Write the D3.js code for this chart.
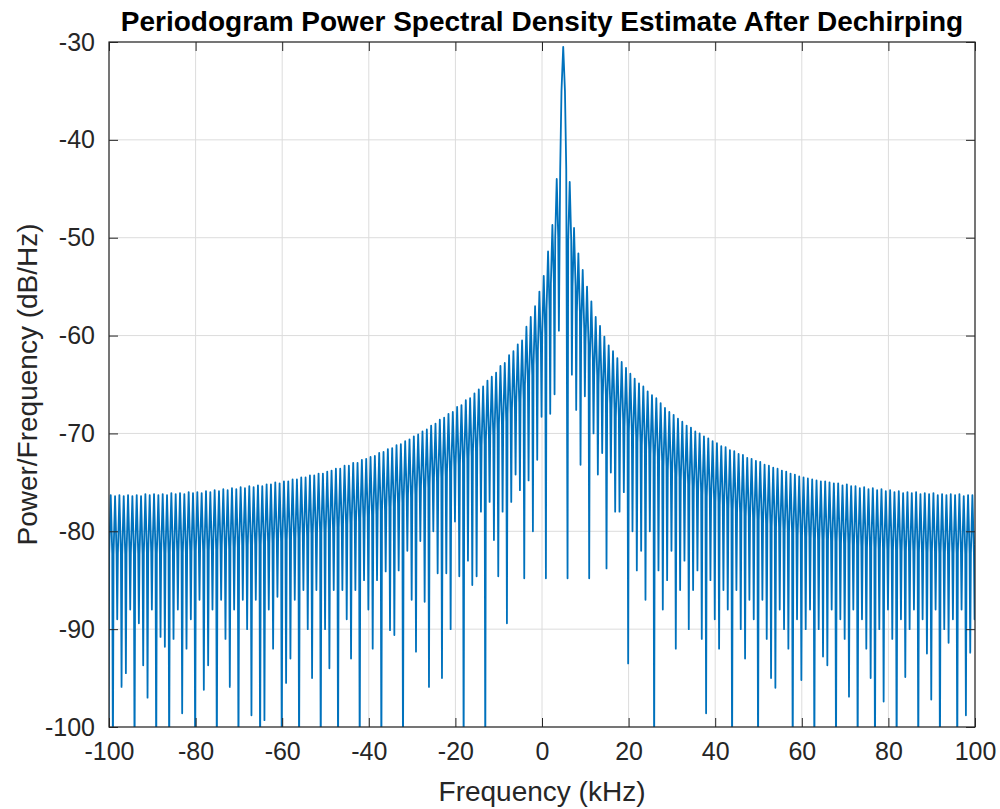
<!DOCTYPE html>
<html>
<head>
<meta charset="utf-8">
<script src="https://cdn.jsdelivr.net/npm/d3@7"></script>
<style>
  body { margin: 0; background: #fff; }
  svg { display: block; font-family: "Liberation Sans", Arial, Helvetica, sans-serif; }
  .tick-label { fill: #262626; font-size: 25px; }
  .axis-title { fill: #262626; font-size: 28px; }
  .chart-title { fill: #000; font-size: 28px; font-weight: bold; }
</style>
</head>
<body>
<svg id="chart" width="1000" height="809"></svg>
<script>
// axis ticks
const freqTicks = [-100, -80, -60, -40, -20, 0, 20, 40, 60, 80, 100];
const dbTicks = [-100, -90, -80, -70, -60, -50, -40, -30];

// sinc spectrum: main lobe near 4.9 kHz, side lobes ~1 kHz apart
const centerFreq = 4.9;
const lobeWidth = 1.0;

const mainLobeFreq = [4.2, 4.5, 4.9, 5.3, 5.6];
const mainLobeDb = [-43, -35, -30.5, -35, -43];

// side-lobe tops, counted outward from the main lobe
const leftPeaks = [
  -44.0, -48.7, -51.4, -53.9, -55.5, -57.0, -58.1, -59.1, -60.5, -60.9,
  -61.6, -62.0, -62.8, -63.1, -63.8, -64.2, -64.6, -65.2, -65.5, -65.9,
  -66.4, -66.6, -67.1, -67.3, -67.8, -68.0, -68.4, -68.6, -69.0, -69.2,
  -69.6, -69.8, -70.1, -70.3, -70.6, -70.8, -71.1, -71.2, -71.5, -71.6,
  -71.9, -72.0, -72.3, -72.4, -72.6, -72.7, -73.0, -73.0, -73.3, -73.3,
  -73.6, -73.6, -73.8, -73.9, -74.1, -74.1, -74.3, -74.3, -74.5, -74.5,
  -74.7, -74.7, -74.9, -74.9, -75.1, -75.0, -75.2, -75.2, -75.4, -75.3,
  -75.5, -75.4, -75.6, -75.5, -75.7, -75.6, -75.8, -75.7, -75.9, -75.8,
  -76.0, -75.9, -76.1, -76.0, -76.1, -76.0, -76.2, -76.1, -76.2, -76.1,
  -76.3, -76.2, -76.3, -76.2, -76.3, -76.2, -76.4, -76.3, -76.4, -76.3,
  -76.4, -76.3, -76.4, -76.3
];
const rightPeaks = [
  -44.3, -49.0, -51.6, -53.3, -55.0, -56.5, -58.1, -59.0, -60.1, -61.0,
  -61.6, -62.3, -62.7, -63.3, -63.9, -64.4, -64.9, -65.2, -65.7, -66.1,
  -66.4, -66.9, -67.4, -67.8, -68.1, -68.5, -68.8, -69.2, -69.4, -69.8,
  -70.0, -70.3, -70.5, -70.8, -71.0, -71.3, -71.4, -71.7, -71.8, -72.1,
  -72.2, -72.5, -72.6, -72.8, -72.9, -73.2, -73.3, -73.5, -73.6, -73.8,
  -73.9, -74.1, -74.2, -74.4, -74.5, -74.6, -74.7, -74.8, -74.9, -74.9,
  -75.0, -75.1, -75.1, -75.3, -75.2, -75.4, -75.4, -75.6, -75.5, -75.7,
  -75.6, -75.8, -75.7, -75.9, -75.8, -76.0, -75.9, -76.1, -76.0, -76.1,
  -76.0, -76.2, -76.1, -76.2, -76.1, -76.3, -76.2, -76.3, -76.2, -76.3,
  -76.2, -76.4, -76.3, -76.3, -76.3
];

// null depths (sampled, so they vary), counted outward
const leftDips = [
  -59.5, -66, -68, -84.8, -68.3, -72.7, -80, -74.8, -84.8, -75.8,
  -74.2, -77, -89.4, -78, -84.6, -80.9, -77, -104, -78, -84.6,
  -85.5, -83, -104, -84.6, -79, -90, -84.3, -95, -84.3, -80,
  -95.9, -87.2, -81, -92.3, -87, -82, -104, -84, -90.6, -90.1,
  -84.1, -104, -85, -92, -88, -85, -104, -86, -93, -89,
  -86, -104, -86, -94, -90, -104, -86, -95, -90, -86,
  -104, -87, -93, -95.5, -104, -86.7, -92, -88, -99.3, -104,
  -87, -98.8, -90, -87, -104, -88, -95.9, -91, -87, -104,
  -88, -93.7, -96.2, -87, -104, -89, -92, -98.6, -88, -91,
  -104, -91.8, -90.8, -104, -88, -97, -93.7, -89.4, -104, -88,
  -94.5, -95.9, -89, -104, -104
];
const rightDips = [
  -84.8, -64, -67.6, -73.2, -66.2, -84.8, -70, -74.2, -72, -83.8,
  -74, -78, -78, -76, -93.5, -80, -84, -82, -87, -80,
  -104, -84, -88, -85, -82, -92, -86, -83, -90, -86,
  -84, -91, -98.6, -85, -89, -92, -86, -88, -104, -86,
  -90, -93, -87, -89, -104, -87, -91, -95, -96, -88,
  -90, -92, -104, -89, -95.2, -90, -88, -104, -90, -92.8,
  -93.7, -88, -104, -89, -91, -96.9, -88, -104, -89, -92,
  -95, -104, -90, -97.4, -88, -91, -104, -89, -94.9, -90,
  -88, -104, -89, -92.5, -97.2, -88, -104, -90, -91.4, -89,
  -104, -88, -98.8, -92.4, -89
];

const svg = d3.select('#chart');
const plot = {left: 109, right: 975, top: 42, bottom: 727};

const x = d3.scaleLinear().domain([-100, 100]).range([plot.left, plot.right]);
const y = d3.scaleLinear().domain([-100, -30]).range([plot.bottom, plot.top]);

// drawing of one lobe: steep shoulders close to each null, pointed top
const shoulderPos = 0.15;   // fraction of a lobe from the null
const shoulderDrop = 6;     // dB below the lobe top

// one lobe between nulls at f0 (depth d0) and f1 (depth d1) with top p
function lobe(f0, f1, p, d0, d1) {
    const s0 = Math.max(p - shoulderDrop, (p + d0) / 2);
    const s1 = Math.max(p - shoulderDrop, (p + d1) / 2);
    return [
        [f0 + (f1 - f0) * shoulderPos, s0],
        [(f0 + f1) / 2, p],
        [f1 - (f1 - f0) * shoulderPos, s1]
    ];
}

const trace = [];
const nL = leftDips.length;
trace.push([centerFreq - nL * lobeWidth, leftDips[nL - 1]]);
for (let k = leftPeaks.length; k >= 1; k--) {
    const f0 = centerFreq - (k + 1) * lobeWidth;
    const f1 = centerFreq - k * lobeWidth;
    lobe(f0, f1, leftPeaks[k - 1], leftDips[k], leftDips[k - 1]).forEach(p => trace.push(p));
    trace.push([f1, leftDips[k - 1]]);
}
mainLobeFreq.forEach((f, i) => trace.push([f, mainLobeDb[i]]));
for (let k = 1; k <= rightPeaks.length; k++) {
    const f0 = centerFreq + k * lobeWidth;
    const f1 = centerFreq + (k + 1) * lobeWidth;
    trace.push([f0, rightDips[k - 1]]);
    const dNext = k < rightDips.length ? rightDips[k] : rightDips[k - 1];
    lobe(f0, f1, rightPeaks[k - 1], rightDips[k - 1], dNext).forEach(p => trace.push(p));
}

svg.append('defs').append('clipPath')
    .attr('id', 'plot-clip')
  .append('rect')
    .attr('x', plot.left)
    .attr('y', plot.top)
    .attr('width', plot.right - plot.left)
    .attr('height', plot.bottom - plot.top);

// grid
svg.append('g')
    .selectAll('line')
    .data(freqTicks)
  .enter().append('line')
    .attr('x1', d => x(d)).attr('x2', d => x(d))
    .attr('y1', plot.top).attr('y2', plot.bottom)
    .attr('stroke', '#dcdcdc').attr('stroke-width', 1);
svg.append('g')
    .selectAll('line')
    .data(dbTicks)
  .enter().append('line')
    .attr('x1', plot.left).attr('x2', plot.right)
    .attr('y1', d => y(d)).attr('y2', d => y(d))
    .attr('stroke', '#dcdcdc').attr('stroke-width', 1);

// spectrum
const line = d3.line()
    .x(d => x(d[0]))
    .y(d => y(d[1]));

svg.append('path')
    .datum(trace)
    .attr('clip-path', 'url(#plot-clip)')
    .attr('fill', 'none')
    .attr('stroke', '#0072BD')
    .attr('stroke-width', 1.8)
    .attr('stroke-linejoin', 'round')
    .attr('d', line);

// axes: ticks point inward on all four sides
const tickLen = 9;
const axisColor = '#262626';
const plain = d => String(d);
const bottomAxis = d3.axisBottom(x).tickValues(freqTicks).tickSize(-tickLen).tickPadding(tickLen + 6)
    .tickFormat(plain);
const topAxis = d3.axisTop(x).tickValues(freqTicks).tickSize(-tickLen).tickFormat('');
const leftAxis = d3.axisLeft(y).tickValues(dbTicks).tickSize(-tickLen).tickPadding(tickLen + 5)
    .tickFormat(plain);
const rightAxis = d3.axisRight(y).tickValues(dbTicks).tickSize(-tickLen).tickFormat('');

function styleAxis(g) {
    g.select('.domain').remove();
    g.selectAll('.tick line').attr('stroke', axisColor).attr('stroke-width', 1);
    g.selectAll('.tick text')
        .attr('class', 'tick-label')
        .attr('font-family', null)
        .attr('font-size', null);
}

svg.append('g').attr('transform', 'translate(0,' + plot.bottom + ')').call(bottomAxis).call(styleAxis);
svg.append('g').attr('transform', 'translate(0,' + plot.top + ')').call(topAxis).call(styleAxis);
svg.append('g').attr('transform', 'translate(' + plot.left + ',0)').call(leftAxis).call(styleAxis);
svg.append('g').attr('transform', 'translate(' + plot.right + ',0)').call(rightAxis).call(styleAxis);

svg.append('rect')
    .attr('x', plot.left)
    .attr('y', plot.top)
    .attr('width', plot.right - plot.left)
    .attr('height', plot.bottom - plot.top)
    .attr('fill', 'none')
    .attr('stroke', axisColor)
    .attr('stroke-width', 1.2);

// titles
svg.append('text')
    .attr('class', 'chart-title')
    .attr('x', (plot.left + plot.right) / 2)
    .attr('y', 31)
    .attr('text-anchor', 'middle')
    .text('Periodogram Power Spectral Density Estimate After Dechirping');

svg.append('text')
    .attr('class', 'axis-title')
    .attr('x', (plot.left + plot.right) / 2)
    .attr('y', 801)
    .attr('text-anchor', 'middle')
    .text('Frequency (kHz)');

svg.append('text')
    .attr('class', 'axis-title')
    .attr('transform', 'translate(37,' + ((plot.top + plot.bottom) / 2) + ')rotate(-90)')
    .attr('text-anchor', 'middle')
    .text('Power/Frequency (dB/Hz)');
</script>
</body>
</html>
